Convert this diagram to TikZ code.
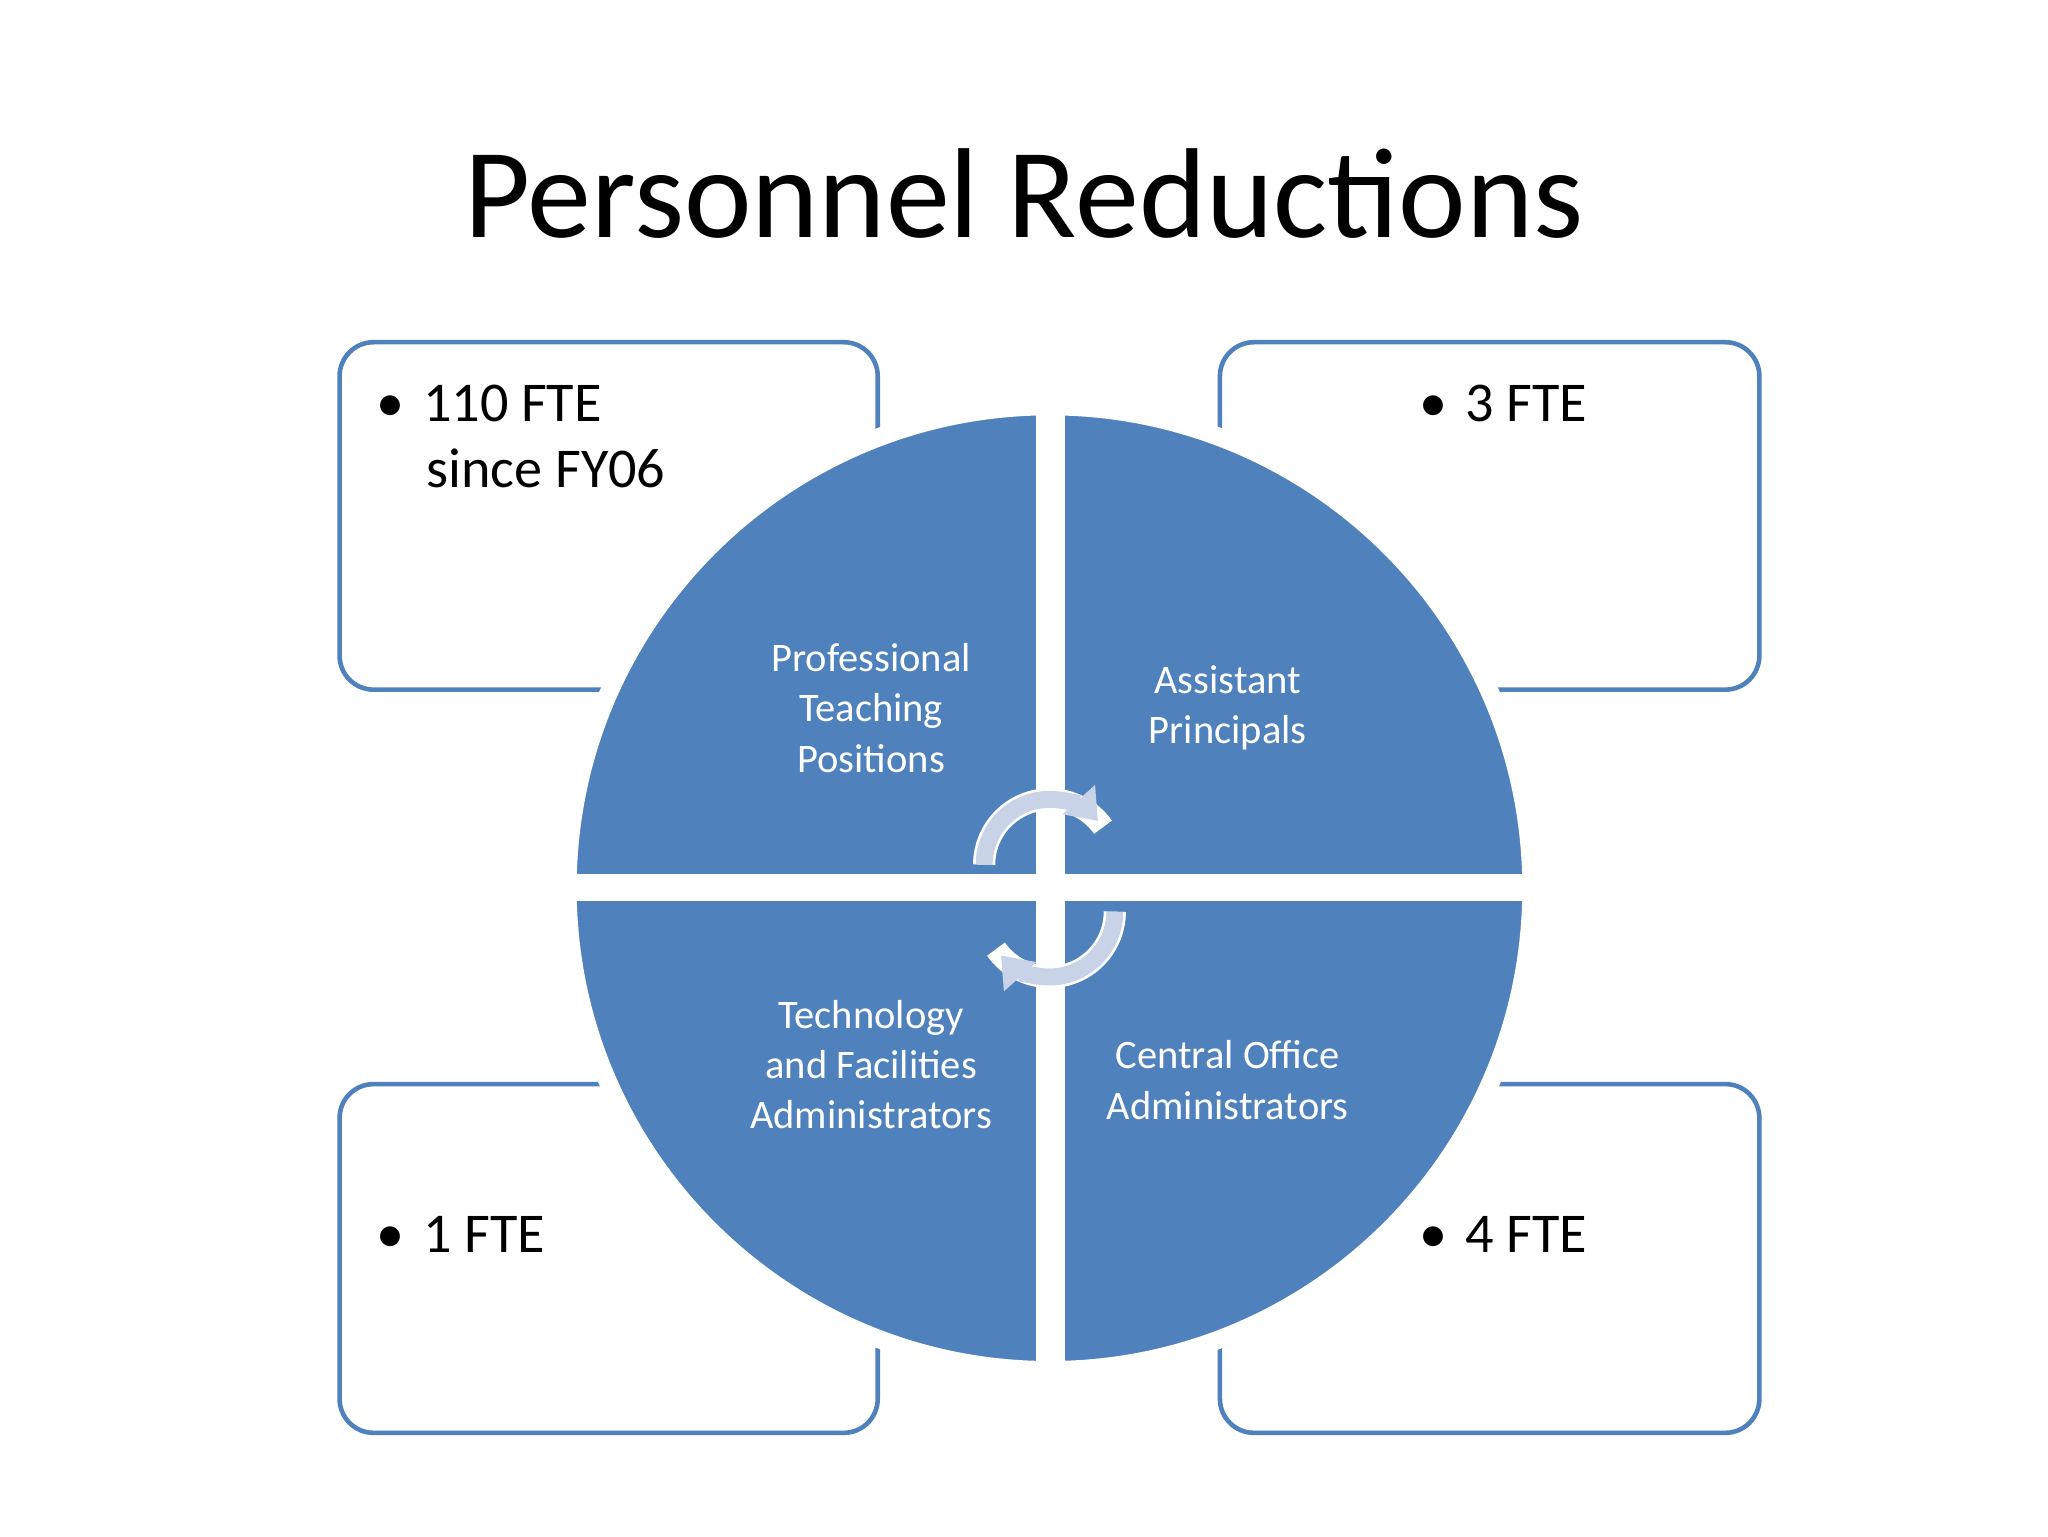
\documentclass[tikz,border=0pt]{standalone}
\usepackage{fontspec}
\setmainfont{Carlito}
\usetikzlibrary{arrows.meta}
\definecolor{blu}{HTML}{4F81BD}
\definecolor{lblu}{HTML}{C9D3E8}
\begin{document}
\begin{tikzpicture}[x=1pt,y=-1pt,
 box/.style={draw=blu,line width=3.5pt,rounded corners=26pt,fill=white},
 qtext/.style={text=white,font=\fontsize{31}{38.5}\selectfont,align=center},
 btext/.style={font=\fontsize{43}{50}\selectfont,align=left,anchor=base west},
 carr/.style={line width=13pt,draw=lblu,-{Triangle[length=22pt,width=32pt]}}]
\useasboundingbox (0,0) rectangle (1568,1176);
\fill[white] (0,0) rectangle (1568,1176);
\node (title) at (784,148) {\fontsize{98}{110}\selectfont Personnel Reductions};
\draw[box] (260,262) rectangle (672,528);
\draw[box] (934,262) rectangle (1347,528);
\draw[box] (260,830) rectangle (672,1097);
\draw[box] (934,830) rectangle (1347,1097);
\node[btext] (t1) at (285,323) {\textbullet\hspace{14pt}110 FTE};
\node[btext] (t1b) at (323,373) {since FY06};
\node[btext] (t2) at (1083,323) {\textbullet\hspace{14pt}3 FTE};
\node[btext] (t3) at (285,959) {\textbullet\hspace{14pt}1 FTE};
\node[btext] (t4) at (1083,959) {\textbullet\hspace{14pt}4 FTE};
\fill[blu,draw=white,line width=14pt] (803.5,680) circle (369);
\fill[white] (793,300) rectangle (815,1060);
\fill[white] (420,669) rectangle (1185,690);
\node[qtext] (q1) at (667,542) {Professional\\Teaching\\Positions};
\node[qtext] (q2) at (940,542) {Assistant\\Principals};
\node[qtext] (q3) at (667,815) {Technology\\and Facilities\\Administrators};
\node[qtext] (q4) at (940,827) {Central Office\\Administrators};
\draw[line width=17pt,draw=white] (803.5,662) ++(180:50) arc (180:325:50);
\draw[carr] (803.5,662) ++(180:50) arc (180:318:50);
\draw[line width=17pt,draw=white] (803.5,698) ++(0:50) arc (0:145:50);
\draw[carr] (803.5,698) ++(0:50) arc (0:138:50);
\end{tikzpicture}
\end{document}
